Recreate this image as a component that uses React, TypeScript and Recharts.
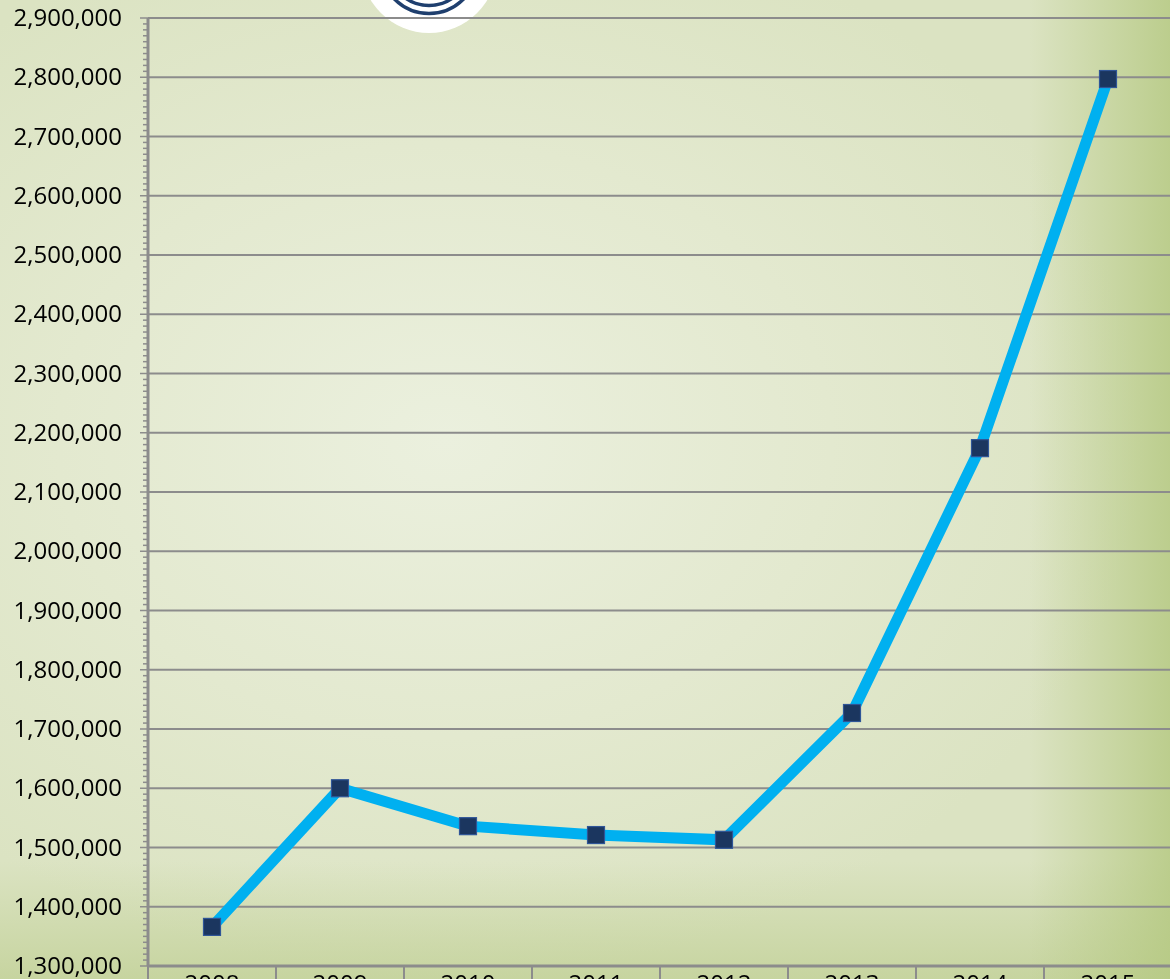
import { LineChart, Line, XAxis, YAxis, ReferenceLine } from "recharts";

const years = ["2008", "2009", "2010", "2011", "2012", "2013", "2014", "2015"];
const values = [1366000, 1600000, 1536000, 1521000, 1513000, 1727000, 2174000, 2797000];
const majorTicks = [
  1300000, 1400000, 1500000, 1600000, 1700000, 1800000, 1900000, 2000000, 2100000,
  2200000, 2300000, 2400000, 2500000, 2600000, 2700000, 2800000, 2900000,
];
// ten minor divisions between each pair of major ticks
const minorTicks = majorTicks.flatMap((t, i) =>
  i === majorTicks.length - 1 ? [t] : Array.from({ length: 10 }, (_, k) => t + k * 10000)
);

const data = years.map((year, i) => ({ year, value: values[i] }));

const CHART_W = 1190;
const CHART_H = 1010;
const Y_W = 148;
const MARGIN = { top: 18, right: 18, bottom: 0, left: 0 };
const BAND = (CHART_W - Y_W - MARGIN.left - MARGIN.right) / years.length;
const FONT = "'Open Sans', sans-serif";
const AXIS = "#8c8c8c";

const fmt = (v: number) => v.toLocaleString("en-US");

function YTick(props: any) {
  const { x, y, payload } = props;
  const major = payload.value % 100000 === 0;
  return (
    <g>
      <line x1={x - (major ? 8 : 5)} x2={x} y1={y} y2={y} stroke={AXIS} strokeWidth={1.5} />
      {major && (
        <text x={x - 26} y={y} dy={8} textAnchor="end" fontSize={24} fontFamily={FONT} fill="#000">
          {fmt(payload.value)}
        </text>
      )}
    </g>
  );
}

function XTick(props: any) {
  const { x, y, payload, index } = props;
  const last = index === years.length - 1;
  return (
    <g>
      <line x1={x - BAND / 2} x2={x - BAND / 2} y1={y} y2={y + 40} stroke={AXIS} strokeWidth={2} />
      {last && (
        <line x1={x + BAND / 2} x2={x + BAND / 2} y1={y} y2={y + 40} stroke={AXIS} strokeWidth={2} />
      )}
      <text x={x} y={y + 26} textAnchor="middle" fontSize={24} fontFamily={FONT} fill="#000">
        {payload.value}
      </text>
    </g>
  );
}

function SquareDot(props: any) {
  const { cx, cy } = props;
  if (cx == null || cy == null) return null;
  return (
    <rect x={cx - 8.5} y={cy - 8.5} width={17} height={17} fill="#1b365f" stroke="#2f5597" strokeWidth={1.2} />
  );
}

export default function App() {
  return (
    <div
      style={{
        position: "fixed",
        left: 0,
        top: 0,
        width: 1170,
        height: 979,
        overflow: "hidden",
        background:
          "linear-gradient(to right, rgba(180,200,128,0) 88%, rgba(180,200,128,0.8) 100%), linear-gradient(to bottom, rgba(190,206,145,0) 88%, rgba(190,206,145,0.7) 100%), radial-gradient(ellipse 60% 55% at 38% 45%, #ebf0de 0%, #e3e9cf 55%, #dbe3c2 100%)",
      }}
    >
      <svg width={1170} height={979} style={{ position: "absolute", left: 0, top: 0 }}>
        <circle cx={429} cy={-35} r={68} fill="#ffffff" />
        <circle cx={429} cy={-35} r={48.5} fill="none" stroke="#1f3f6e" strokeWidth={3.5} />
        <circle cx={429} cy={-35} r={40.5} fill="none" stroke="#1f3f6e" strokeWidth={3.5} />
      </svg>
      <div style={{ position: "absolute", left: 0, top: 0 }}>
        <LineChart width={CHART_W} height={CHART_H} data={data} margin={MARGIN}>
          {majorTicks.slice(1).map((t) => (
            <ReferenceLine key={t} y={t} stroke={AXIS} strokeWidth={2} />
          ))}
          <XAxis
            dataKey="year"
            height={44}
            tickSize={0}
            tickMargin={0}
            interval={0}
            padding={{ left: BAND / 2, right: BAND / 2 }}
            tick={<XTick />}
            axisLine={{ stroke: AXIS, strokeWidth: 3 }}
          />
          <YAxis
            width={Y_W}
            domain={[1300000, 2900000]}
            ticks={minorTicks}
            interval={0}
            tickSize={0}
            tickMargin={0}
            tick={<YTick />}
            axisLine={{ stroke: AXIS, strokeWidth: 3 }}
            allowDataOverflow
          />
          <Line
            type="linear"
            dataKey="value"
            stroke="#00b0f0"
            strokeWidth={11}
            dot={<SquareDot />}
            activeDot={false}
            isAnimationActive={false}
          />
        </LineChart>
      </div>
    </div>
  );
}
